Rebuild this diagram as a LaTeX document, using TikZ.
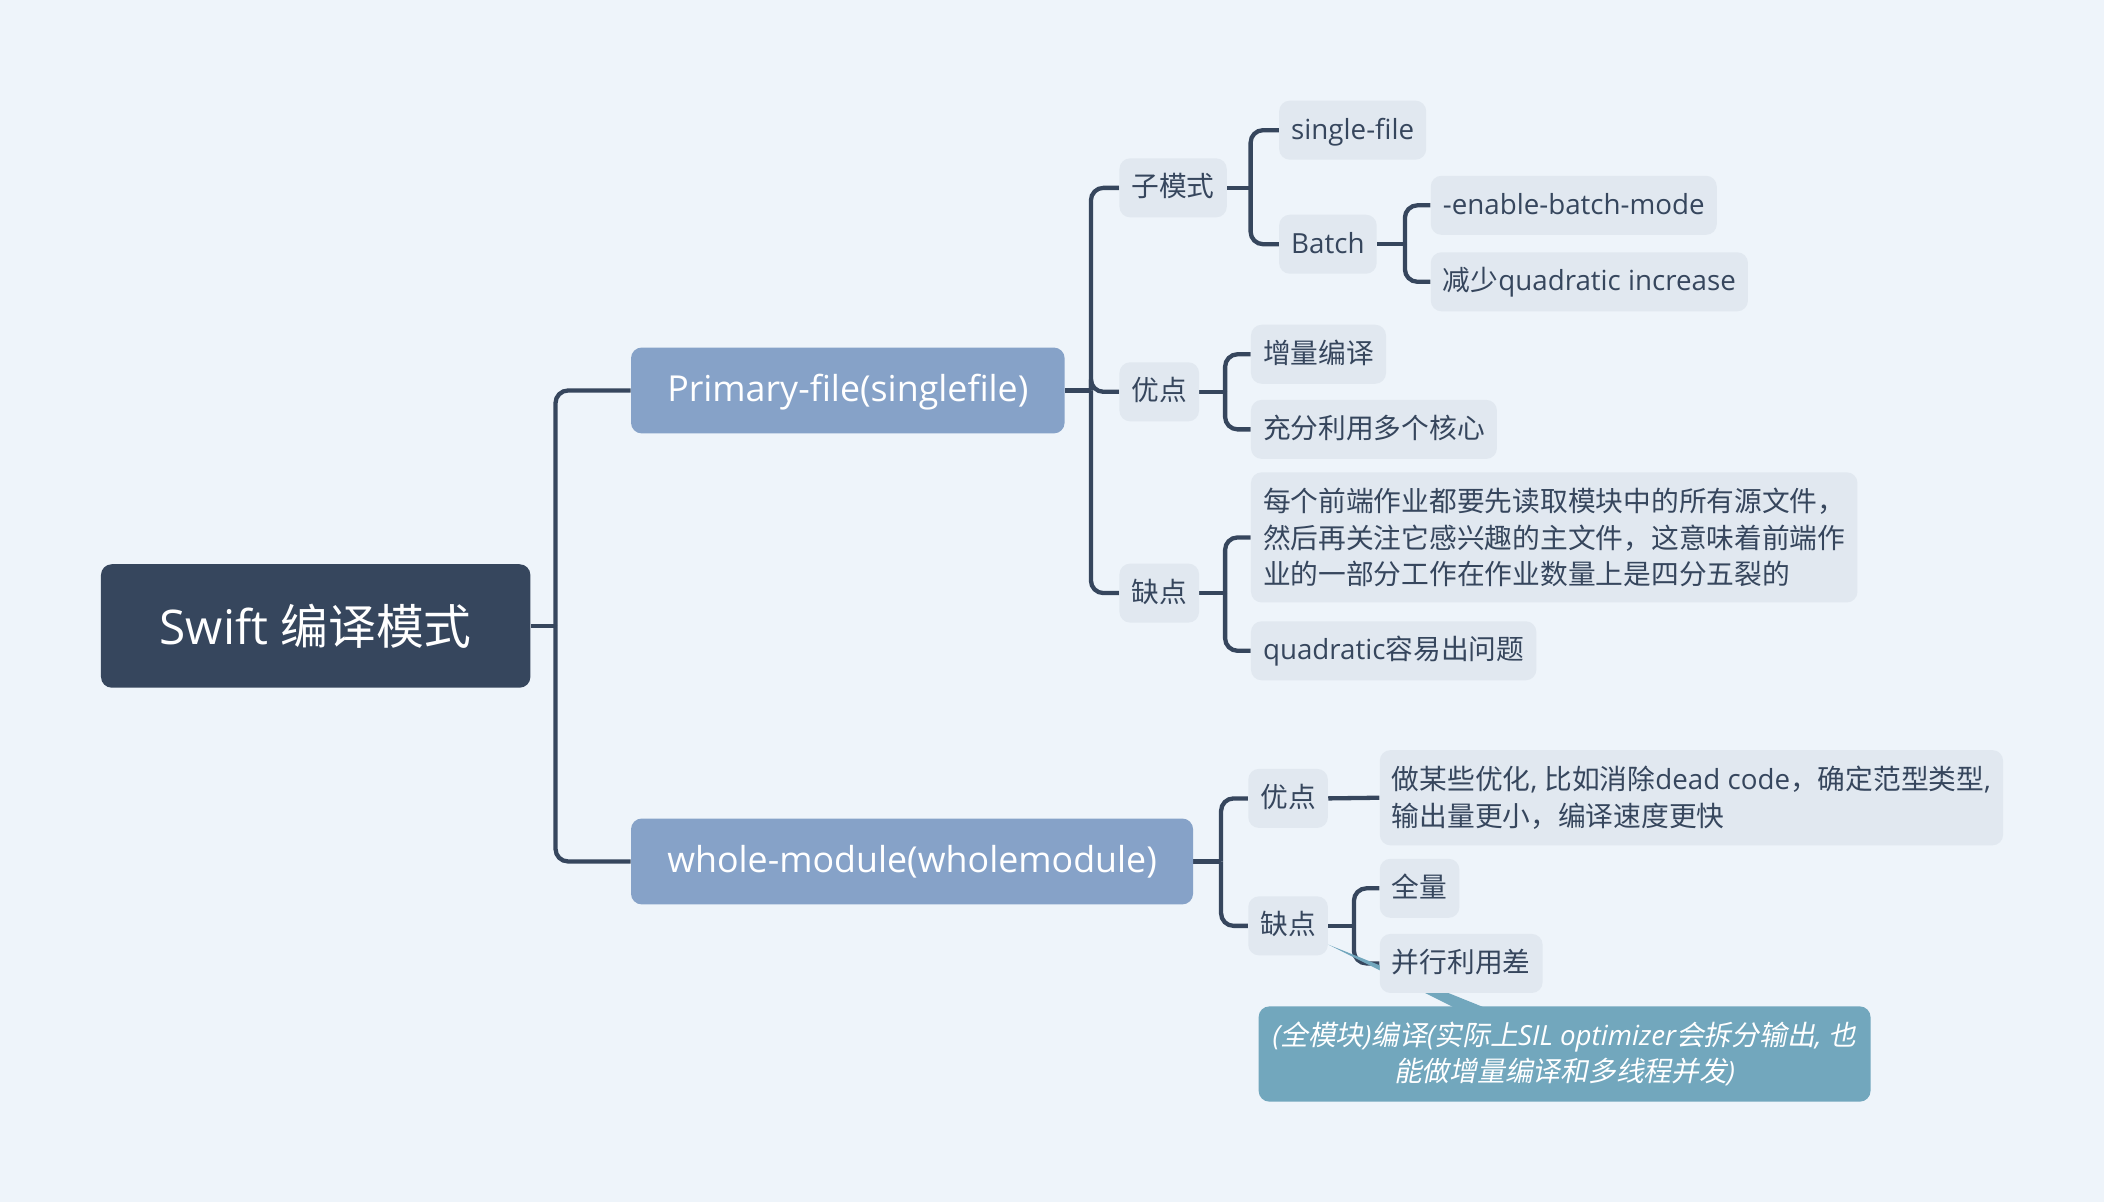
\documentclass[tikz,border=0pt]{standalone}
\usepackage{fontspec}
\setmainfont{Open Sans}
\newfontfamily\cjk{Noto Sans CJK SC}
\newfontfamily\cjkit{Noto Sans CJK SC}[FakeSlant=0.2]
\newcommand\C[1]{{\cjk\upshape #1}}
\newcommand\CI[1]{{\cjkit\upshape #1}}
\definecolor{bgc}{HTML}{EEF4FA}
\definecolor{dark}{HTML}{36465D}
\definecolor{blueone}{HTML}{86A2C8}
\definecolor{leafc}{HTML}{E1E8F0}
\definecolor{tealc}{HTML}{72A7BD}
\pgfdeclarelayer{back}
\pgfsetlayers{back,main}
\tikzset{
  leaf/.style={fill=leafc, rounded corners=6pt, anchor=west, inner xsep=6.75pt, inner ysep=0pt,
    minimum height=33pt, text=dark, font=\fontsize{15.5}{20.25}\selectfont, text height=12.8pt, text depth=2.8pt},
  multi/.style={fill=leafc, rounded corners=6pt, anchor=west, inner xsep=6.75pt, inner ysep=0pt,
    text=dark, align=left, font=\fontsize{15.5}{20.25}\selectfont},
  lvlone/.style={fill=blueone, rounded corners=6pt, anchor=west, inner xsep=20.25pt, inner ysep=0pt,
    minimum height=48pt, text=white, font=\fontsize{20}{24}\selectfont, text height=16pt, text depth=3.8pt},
  rootn/.style={fill=dark, rounded corners=6pt, anchor=west, minimum width=240pt, minimum height=69pt,
    text=white, font=\fontsize{26.7}{32}\selectfont},
  notebox/.style={fill=tealc, rounded corners=6pt, minimum width=342pt, minimum height=53.25pt, inner ysep=0pt,
    text=white, align=center, font=\itshape\fontsize{15.5}{20.25}\selectfont},
  conn/.style={draw=dark, line width=2.4pt, rounded corners=7pt},
}
\begin{document}
\begin{tikzpicture}[x=0.75pt,y=-0.75pt]
\useasboundingbox (0,0) rectangle (1568,896);
\begin{pgfonlayer}{back}
\fill[bgc] (0,0) rectangle (1568,896);
\end{pgfonlayer}

% nodes
\node[rootn] (root) at (75,466.5) {Swift \C{编译模式}};
\node[lvlone] (pf) at (470,291) {Primary-file(singlefile)};
\node[lvlone] (wm) at (470,642) {whole-module(wholemodule)};

\node[leaf] (a1) at (834,140) {\C{子模式}};
\node[leaf] (a2) at (834,292) {\C{优点}};
\node[leaf] (a3) at (834,442) {\C{缺点}};

\node[leaf] (b1) at (953,97) {single-file};
\node[leaf] (b2) at (953,182) {Batch};
\node[leaf] (c1) at (1066,153) {-enable-batch-mode};
\node[leaf] (c2) at (1066,210) {\C{减少}quadratic increase};

\node[leaf] (d1) at (932,264) {\C{增量编译}};
\node[leaf] (d2) at (932,320) {\C{充分利用多个核心}};

\node[multi, minimum height=72.75pt] (e1) at (932,400.5) {\C{每个前端作业都要先读取模块中的所有源文件，}\\\C{然后再关注它感兴趣的主文件，这意味着前端作}\\\C{业的一部分工作在作业数量上是四分五裂的}};
\node[leaf] (e2) at (932,485) {quadratic\C{容易出问题}};

\node[leaf] (f1) at (930,595) {\C{优点}};
\node[leaf] (f2) at (930,690) {\C{缺点}};
\node[multi, minimum height=53.25pt] (g1) at (1028,594.5) {\C{做某些优化}, \C{比如消除}dead code\C{，确定范型类型}, \\\C{输出量更小，编译速度更快}};
\node[leaf] (h1) at (1028,662) {\C{全量}};
\node[leaf] (h2) at (1028,718) {\C{并行利用差}};

\node[notebox] (nt) at (1166,785.5) {(\CI{全模块})\CI{编译}(\CI{实际上}SIL optimizer\CI{会拆分输出}, \CI{也}\\\CI{能做增量编译和多线程并发})};

% junctions
\coordinate (jr) at (414,466.5);
\coordinate (jpf) at (813,291);
\coordinate (ja1) at (932,140);
\coordinate (jb2) at (1047,182);
\coordinate (ja2) at (913,292);
\coordinate (ja3) at (913,442);
\coordinate (jwm) at (910,642);
\coordinate (jf2) at (1009,690);
\coordinate (tip) at (990,704);

\begin{pgfonlayer}{back}
\draw[conn] (root.east) -- (jr);
\draw[conn] (jr) |- (pf.west);
\draw[conn] (jr) |- (wm.west);

\draw[conn] (pf.east) -- (jpf);
\draw[conn] (jpf) |- (a1.west);
\draw[conn] (jpf) |- (a2.west);
\draw[conn] (jpf) |- (a3.west);

\draw[conn] (a1.east) -- (ja1);
\draw[conn] (ja1) |- (b1.west);
\draw[conn] (ja1) |- (b2.west);

\draw[conn] (b2.east) -- (jb2);
\draw[conn] (jb2) |- (c1.west);
\draw[conn] (jb2) |- (c2.west);

\draw[conn] (a2.east) -- (ja2);
\draw[conn] (ja2) |- (d1.west);
\draw[conn] (ja2) |- (d2.west);

\draw[conn] (a3.east) -- (ja3);
\draw[conn] (ja3) |- (e1.west);
\draw[conn] (ja3) |- (e2.west);

\draw[conn] (wm.east) -- (jwm);
\draw[conn] (jwm) |- (f1.west);
\draw[conn] (jwm) |- (f2.west);

\draw[conn] (f1.east) -- (g1.west);

\draw[conn] (f2.east) -- (jf2);
\draw[conn] (jf2) |- (h1.west);
\draw[conn] (jf2) |- (h2.west);

\fill[tealc] (tip) -- (1094,756) -- (1119,756) -- cycle;
\end{pgfonlayer}
\end{tikzpicture}
\end{document}
